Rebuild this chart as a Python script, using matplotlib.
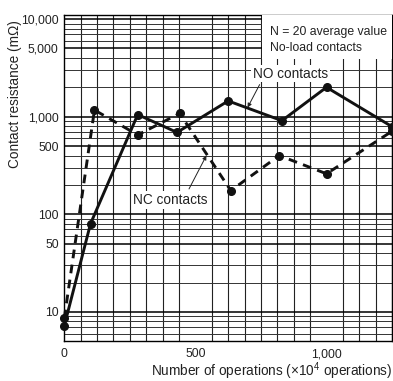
import matplotlib
matplotlib.use("Agg")
import matplotlib.pyplot as plt
from matplotlib.patches import Rectangle
from matplotlib.ticker import FixedLocator, NullFormatter, LogLocator

plt.rcParams['font.family'] = ['Liberation Sans', 'DejaVu Sans']
plt.rcParams['mathtext.fontset'] = 'custom'
plt.rcParams['mathtext.rm'] = 'Liberation Sans'
plt.rcParams['mathtext.it'] = 'Liberation Sans'

# Number of operations (x10^4)
no_ops = [0, 100, 280, 430, 625, 830, 1000, 1250]
no_res = [7.2, 80, 1050, 690, 1450, 910, 2000, 790]      # NO contacts (mOhm)
nc_ops = [0, 115, 280, 440, 635, 820, 1000, 1250]
nc_res = [8.6, 1170, 650, 1080, 175, 400, 260, 710]      # NC contacts (mOhm)

y_ticks = [10, 50, 100, 500, 1000, 5000, 10000]
y_labels = ["10", "50", "100", "500", "1,000", "5,000", "10,000"]
x_ticks = [0, 500, 1000]
x_labels = ["0", "500", "1,000"]

fig = plt.figure(figsize=(3.93, 3.81), dpi=100)
ax = fig.add_axes([0.1636, 0.1042, 0.834, 0.8564])
ax.set_yscale('log')
ax.set_xlim(0, 1250)
ax.set_ylim(5, 11000)

# grid: vertical every 62.5, log major/minor horizontal
ax.xaxis.set_minor_locator(FixedLocator([i * 62.5 for i in range(21)]))
ax.yaxis.set_minor_locator(LogLocator(base=10, subs=range(2, 10)))
ax.yaxis.set_minor_formatter(NullFormatter())
ax.grid(True, which='minor', axis='x', color='#222222', lw=0.8)
ax.grid(True, which='major', axis='y', color='black', lw=1.1)
ax.grid(True, which='minor', axis='y', color='#333333', lw=0.7)
ax.set_axisbelow(True)

ax.set_xticks(x_ticks)
ax.set_xticklabels(x_labels)
ax.set_yticks(y_ticks)
ax.set_yticklabels(y_labels)
ax.tick_params(which='both', length=0, labelsize=8.7, colors='#222222', pad=4)
ax.tick_params(axis='x', pad=5)
for s in ax.spines.values():
    s.set_color('black')
    s.set_linewidth(1.0)

ax.plot(no_ops, no_res, color='#111111', lw=2.1, marker='o', ms=5.5,
        clip_on=False, zorder=4)
ax.plot(nc_ops, nc_res, color='#111111', lw=2.1, ls=(0, (3, 2.2)), marker='o',
        ms=5.5, clip_on=False, zorder=4)

# note box
ax.add_patch(Rectangle((0.603, 0.865), 0.397, 0.135, transform=ax.transAxes,
                       facecolor='white', edgecolor='none', zorder=3))
ax.text(0.628, 0.948, "N = 20 average value", transform=ax.transAxes,
        fontsize=8.8, va='center', ha='left', color='#222222', zorder=5)
ax.text(0.628, 0.899, "No-load contacts", transform=ax.transAxes,
        fontsize=8.8, va='center', ha='left', color='#222222', zorder=5)

# callouts
ax.annotate("NO contacts", xy=(699, 1240), xytext=(862, 2768),
            fontsize=9.8, color='#222222', ha='center', va='center', zorder=6,
            bbox=dict(boxstyle='square,pad=0.12', fc='white', ec='none'),
            arrowprops=dict(arrowstyle='-|>', color='#222222', lw=0.7,
                            mutation_scale=6, shrinkA=2, shrinkB=0,
                            relpos=(0.12, 0.0)))
ax.annotate("NC contacts", xy=(542, 400), xytext=(405, 140),
            fontsize=9.8, color='#222222', ha='center', va='center', zorder=6,
            bbox=dict(boxstyle='square,pad=0.12', fc='white', ec='none'),
            arrowprops=dict(arrowstyle='-|>', color='#222222', lw=0.7,
                            mutation_scale=6, shrinkA=2, shrinkB=0,
                            relpos=(0.72, 1.0)))

fig.text(15 / 393, 1 - 20 / 381, "Contact resistance (mΩ)", rotation=90,
         ha='center', va='top', fontsize=9.8, color='#222222')
fig.text(392 / 393, 1 - 371 / 381,
         r"Number of operations (×10$^{4}$ operations)",
         ha='right', va='center', fontsize=9.8, color='#222222')

fig.savefig("out.png", dpi=100)
